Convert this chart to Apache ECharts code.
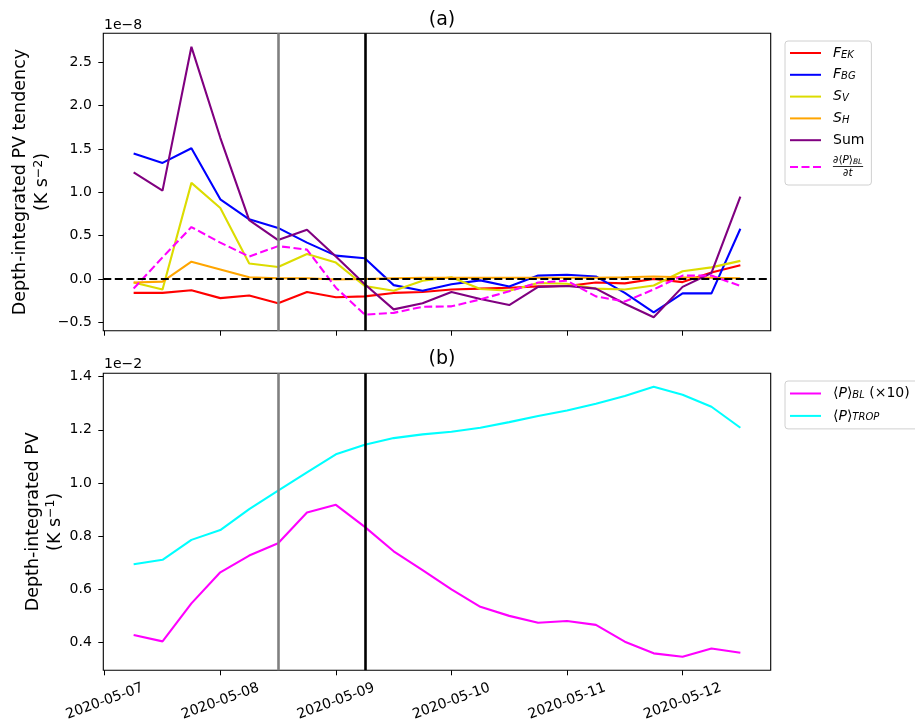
<!DOCTYPE html>
<html><head><meta charset="utf-8">
<script src="https://cdn.jsdelivr.net/npm/echarts@6/dist/echarts.min.js"></script>
<style>html,body{margin:0;padding:0;background:#fff}#c{width:915px;height:723px}</style>
</head><body><div id="c"></div>
<script>
// ---- data ----
const times = [
  '2020-05-07 06:00','2020-05-07 12:00','2020-05-07 18:00',
  '2020-05-08 00:00','2020-05-08 06:00','2020-05-08 12:00','2020-05-08 18:00',
  '2020-05-09 00:00','2020-05-09 06:00','2020-05-09 12:00','2020-05-09 18:00',
  '2020-05-10 00:00','2020-05-10 06:00','2020-05-10 12:00','2020-05-10 18:00',
  '2020-05-11 00:00','2020-05-11 06:00','2020-05-11 12:00','2020-05-11 18:00',
  '2020-05-12 00:00','2020-05-12 06:00','2020-05-12 12:00'
];
const tickLabels = ['2020-05-07','2020-05-08','2020-05-09','2020-05-10','2020-05-11','2020-05-12'];
const eventTimes = ['2020-05-08 12:00','2020-05-09 06:00'];
const topTicks = [-0.5, 0.0, 0.5, 1.0, 1.5, 2.0, 2.5];
const bottomTicks = [0.4, 0.6, 0.8, 1.0, 1.2, 1.4];
// panel (a), units of 1e-8 K s^-2
const F_EK = [-0.16,-0.16,-0.13,-0.22,-0.19,-0.28,-0.15,-0.21,-0.20,-0.16,-0.15,-0.12,-0.11,-0.10,-0.085,-0.08,-0.04,-0.05,0.00,-0.035,0.075,0.16];
const F_BG = [1.45,1.34,1.51,0.92,0.69,0.59,0.42,0.27,0.24,-0.07,-0.135,-0.06,-0.015,-0.085,0.04,0.05,0.03,-0.16,-0.385,-0.165,-0.165,0.58];
const S_V  = [-0.04,-0.12,1.11,0.82,0.18,0.14,0.29,0.19,-0.08,-0.135,-0.02,0.02,-0.115,-0.135,-0.045,-0.055,-0.11,-0.12,-0.075,0.09,0.135,0.21];
const S_H  = [-0.04,-0.03,0.20,0.11,0.02,0.01,0.01,-0.005,0.0,0.01,0.015,0.015,0.015,0.015,0.015,0.015,0.015,0.02,0.03,0.02,0.015,0.01];
const SUM  = [1.23,1.02,2.68,1.63,0.68,0.45,0.57,0.26,-0.06,-0.35,-0.28,-0.15,-0.23,-0.30,-0.09,-0.08,-0.11,-0.285,-0.44,-0.09,0.07,0.95];
const DPDT = [-0.11,0.25,0.60,0.42,0.26,0.38,0.34,-0.10,-0.41,-0.39,-0.32,-0.315,-0.235,-0.14,-0.04,-0.02,-0.20,-0.26,-0.12,0.04,0.04,-0.08];
// panel (b), units of 1e-2 K s^-1
const P_BL   = [0.428,0.404,0.547,0.664,0.727,0.773,0.889,0.918,0.835,0.743,0.672,0.600,0.534,0.500,0.474,0.481,0.466,0.403,0.359,0.346,0.377,0.361];
const P_TROP = [0.694,0.711,0.786,0.823,0.902,0.971,1.040,1.108,1.144,1.169,1.183,1.193,1.208,1.229,1.252,1.273,1.298,1.327,1.362,1.332,1.287,1.208];

// ---- helpers ----
function hrs(s){
  const parts = s.split(' ');
  const d = parts[0].split('-').map(Number);
  const t = (parts[1] || '00:00').split(':').map(Number);
  return (Date.UTC(d[0], d[1]-1, d[2], t[0], t[1]) - Date.UTC(2020,4,7)) / 3600000;
}
const xs = times.map(hrs);
const tickHours = tickLabels.map(hrs);
const eventHours = eventTimes.map(hrs);
function pad(min, max){ const r = max - min; return [min - 0.05*r, max + 0.05*r]; }
const xr = pad(Math.min(...xs), Math.max(...xs));
const topAll = [].concat(F_EK, F_BG, S_V, S_H, SUM, DPDT);
const yrA = pad(Math.min(...topAll), Math.max(...topAll));
const botAll = [].concat(P_BL, P_TROP);
const yrB = pad(Math.min(...botAll), Math.max(...botAll));
const pts = arr => arr.map((v,i) => [xs[i], v]);
const fmt = v => (v < 0 ? '\u2212' : '') + Math.abs(v).toFixed(1);

const FONT = 'DejaVu Sans';
const tickStyle = {show:true, length:5, inside:false, lineStyle:{color:'#000', width:1}};
const noLine = {show:false, onZero:false};

function lineSeries(name, data, color, xi, extra){
  return Object.assign({
    name, type:'line', data: pts(data), xAxisIndex: xi, yAxisIndex: xi,
    symbol:'none', showSymbol:false, silent:true, animation:false,
    lineStyle:{color, width:2.1}, itemStyle:{color}, emphasis:{disabled:true}
  }, extra || {});
}
function marks(withZero){
  const d = [
    {xAxis: eventHours[0], lineStyle:{color:'#808080', width:2.6, type:'solid'}},
    {xAxis: eventHours[1], lineStyle:{color:'#000000', width:2.6, type:'solid'}}
  ];
  if (withZero) d.push({yAxis: 0, lineStyle:{color:'#000', width:2, type:[8,3.5]}});
  return {silent:true, symbol:['none','none'], label:{show:false}, animation:false, emphasis:{disabled:true}, data:d};
}

const legendRich = {
  ip:{fontFamily:FONT, fontSize:14, fontStyle:'italic', color:'#000', lineHeight:14, padding:[0,0,0,7]},
  i:{fontFamily:FONT, fontSize:14, fontStyle:'italic', color:'#000', lineHeight:14},
  np:{fontFamily:FONT, fontSize:14, color:'#000', lineHeight:14, padding:[0,0,0,7]},
  n:{fontFamily:FONT, fontSize:14, color:'#000', lineHeight:14},
  s:{fontFamily:FONT, fontSize:10, fontStyle:'italic', color:'#000', lineHeight:6, verticalAlign:'bottom'},
  fnp:{fontFamily:FONT, fontSize:10.5, color:'#000', lineHeight:11, padding:[0,0,0,7]},
  fn:{fontFamily:FONT, fontSize:10.5, color:'#000', lineHeight:11},
  fi:{fontFamily:FONT, fontSize:10.5, fontStyle:'italic', color:'#000', lineHeight:11},
  fs:{fontFamily:FONT, fontSize:7.5, fontStyle:'italic', color:'#000', lineHeight:5, verticalAlign:'bottom'},
  bar:{fontFamily:FONT, fontSize:10, color:'#000', lineHeight:2, padding:[0,0,0,7]},
  fdp:{fontFamily:FONT, fontSize:10.5, color:'#000', lineHeight:11, padding:[0,0,0,17]}
};
const legendLabels = {
  'F_EK':'{ip|F}{s|EK}',
  'F_BG':'{ip|F}{s|BG}',
  'S_V':'{ip|S}{s|V}',
  'S_H':'{ip|S}{s|H}',
  'Sum':'{np|Sum}',
  'dPdt':'{fnp|\u2202\u27E8}{fi|P}{fn|\u27E9}{fs|BL}\n{bar|\u2500\u2500\u2500\u2500\u2500}\n{fdp|\u2202}{fi|t}',
  'P_BL':'{np|\u27E8}{i|P}{n|\u27E9}{s|BL}{n| (\u00D710)}',
  'P_TROP':'{np|\u27E8}{i|P}{n|\u27E9}{s|TROP}'
};
const legendBase = {
  orient:'vertical', itemWidth:31, itemHeight:14,
  itemStyle:{color:'rgba(0,0,0,0)', borderWidth:0, opacity:0},
  backgroundColor:'rgba(255,255,255,0.8)', borderColor:'#d0d0d0', borderWidth:1, borderRadius:3,
  selectedMode:false, formatter: n => legendLabels[n],
  textStyle:{fontFamily:FONT, fontSize:14, color:'#000', rich: legendRich}
};
const nameStyle = {fontFamily:FONT, fontSize:17.5, color:'#000', lineHeight:22,
  rich:{n:{fontFamily:FONT, fontSize:17.5, color:'#000', lineHeight:22},
        sup:{fontFamily:FONT, fontSize:12.5, color:'#000', lineHeight:12, verticalAlign:'top'}}};

const option = {
  animation:false,
  backgroundColor:'#fff',
  textStyle:{fontFamily:FONT},
  title:[
    {text:'(a)', left:437, top:6, textAlign:'center', textStyle:{fontFamily:FONT, fontSize:19, fontWeight:'normal', color:'#000'}},
    {text:'(b)', left:437, top:345, textAlign:'center', textStyle:{fontFamily:FONT, fontSize:19, fontWeight:'normal', color:'#000'}}
  ],
  legend:[
    Object.assign({}, legendBase, {left:785, top:41, padding:[5,7,6,4], itemGap:7.8,
      data:['F_EK','F_BG','S_V','S_H','Sum','dPdt']}),
    Object.assign({}, legendBase, {left:785, top:381, padding:[5.5,14,6,4], itemGap:8.4,
      data:['P_BL','P_TROP']})
  ],
  grid:[
    {left:103.3, top:33.3, width:667.4, height:297.4, show:true, borderColor:'#000', borderWidth:1.1, backgroundColor:'transparent', outerBoundsMode:'none', containLabel:false},
    {left:103.3, top:373.3, width:667.4, height:297, show:true, borderColor:'#000', borderWidth:1.1, backgroundColor:'transparent', outerBoundsMode:'none', containLabel:false}
  ],
  xAxis:[
    {type:'value', gridIndex:0, min:xr[0], max:xr[1], axisLine:noLine, splitLine:{show:false},
     axisTick:Object.assign({customValues:tickHours}, tickStyle), axisLabel:{show:false}},
    {type:'value', gridIndex:1, min:xr[0], max:xr[1], axisLine:noLine, splitLine:{show:false},
     axisTick:Object.assign({customValues:tickHours}, tickStyle),
     axisLabel:{show:true, customValues:tickHours, rotate:20, align:'center', verticalAlign:'middle', margin:31,
       fontFamily:FONT, fontSize:14, color:'#000', hideOverlap:false,
       formatter: v => { const k = tickHours.indexOf(v); return k >= 0 ? tickLabels[k] : ''; }}}
  ],
  yAxis:[
    {type:'value', gridIndex:0, min:yrA[0], max:yrA[1], axisLine:noLine, splitLine:{show:false},
     axisTick:Object.assign({customValues:topTicks}, tickStyle),
     axisLabel:{customValues:topTicks, formatter:fmt, margin:11.5, fontFamily:FONT, fontSize:14, color:'#000'},
     name:'{n|Depth-integrated PV tendency}\n{n|(K s}{sup|\u22122}{n|)}',
     nameLocation:'middle', nameRotate:90, nameGap:49.5, nameMoveOverlap:false, nameTextStyle:nameStyle},
    {type:'value', gridIndex:1, min:yrB[0], max:yrB[1], axisLine:noLine, splitLine:{show:false},
     axisTick:Object.assign({customValues:bottomTicks}, tickStyle),
     axisLabel:{customValues:bottomTicks, formatter:fmt, margin:11.5, fontFamily:FONT, fontSize:14, color:'#000'},
     name:'{n|Depth-integrated PV}\n{n|(K s}{sup|\u22121}{n|)}',
     nameLocation:'middle', nameRotate:90, nameGap:37, nameMoveOverlap:false, nameTextStyle:nameStyle}
  ],
  graphic:[
    {type:'text', left:104, top:18, style:{text:'1e\u22128', font:'14px "DejaVu Sans"', fill:'#000'}},
    {type:'text', left:104, top:357, style:{text:'1e\u22122', font:'14px "DejaVu Sans"', fill:'#000'}}
  ],
  series:[
    lineSeries('F_EK', F_EK, '#ff0000', 0),
    lineSeries('F_BG', F_BG, '#0000ff', 0),
    lineSeries('S_V', S_V, '#dcdc00', 0),
    lineSeries('S_H', S_H, '#ffa500', 0),
    lineSeries('Sum', SUM, '#800080', 0),
    lineSeries('dPdt', DPDT, '#ff00ff', 0, {lineStyle:{color:'#ff00ff', width:2.1, type:[8,3.5]}, markLine: marks(true)}),
    lineSeries('P_BL', P_BL, '#ff00ff', 1),
    lineSeries('P_TROP', P_TROP, '#00ffff', 1, {markLine: marks(false)})
  ]
};
const chart = echarts.init(document.getElementById('c'), null, {renderer:'canvas'});
chart.setOption(option);
</script>
</body></html>
